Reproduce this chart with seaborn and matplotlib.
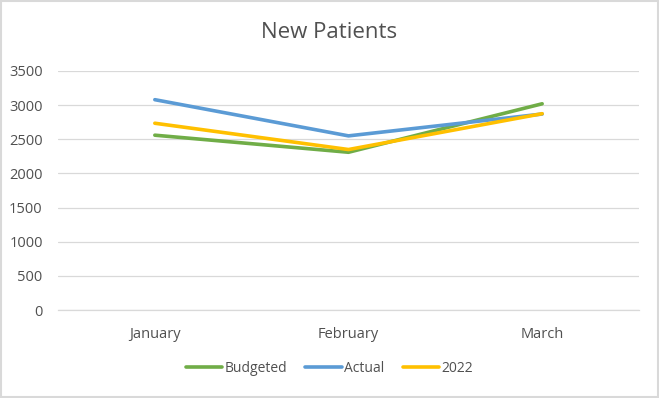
import matplotlib
matplotlib.use("Agg")
import matplotlib.pyplot as plt
import seaborn as sns
import pandas as pd
from matplotlib.patches import Rectangle
from matplotlib.lines import Line2D

months = ["January", "February", "March"]
budgeted = [2560, 2310, 3020]
actual = [3080, 2550, 2870]
y2022 = [2735, 2350, 2875]
series_names = ["Budgeted", "Actual", "2022"]
colors = ["#70AD47", "#5B9BD5", "#FFC000"]
yticks = [0, 500, 1000, 1500, 2000, 2500, 3000, 3500]

rows = []
for name, vals in zip(series_names, [budgeted, actual, y2022]):
    for m, v in zip(months, vals):
        rows.append({"Month": m, "Series": name, "Value": v})
df = pd.DataFrame(rows)
df["x"] = df["Month"].map({m: i for i, m in enumerate(months)})

sns.set_theme(style="white")
plt.rcParams["font.family"] = ["Open Sans", "DejaVu Sans"]

fig = plt.figure(figsize=(6.59, 3.98), dpi=100)
ax = fig.add_axes([58/659, 1-310/398, (639-58)/659, (310-71)/398])

sns.lineplot(data=df, x="x", y="Value", hue="Series", hue_order=series_names,
             palette=colors, linewidth=2.6, ax=ax, legend=False, sort=False)

ax.set_xlim(-0.5, 2.5)
ax.set_ylim(0, 3500)
ax.set_yticks(yticks)
ax.set_yticklabels([str(t) for t in yticks])
ax.set_xticks(range(len(months)))
ax.set_xticklabels(months)
ax.set_xlabel("")
ax.set_ylabel("")
ax.grid(axis="y", color="#D9D9D9", linewidth=0.9)
ax.set_axisbelow(True)
for s in ["top", "right", "left"]:
    ax.spines[s].set_visible(False)
ax.spines["bottom"].set_color("#D9D9D9")
ax.spines["bottom"].set_linewidth(0.9)
ax.tick_params(axis="both", length=0, labelsize=10.5, colors="#505050")
ax.tick_params(axis="y", pad=11)
ax.tick_params(axis="x", pad=12)

fig.text(0.5, 1-32/398, "New Patients", ha="center", va="center",
         fontsize=16, color="#505050")

handles = [Line2D([0], [0], color=c, lw=2.6) for c in colors]
fig.legend(handles, series_names, loc="center", bbox_to_anchor=(0.5, 1-368/398),
           ncol=3, frameon=False, fontsize=10, labelcolor="#505050",
           handlelength=2.6, handletextpad=0.2, columnspacing=1.3)

fig.patches.append(Rectangle((0.002, 0.003), 0.996, 0.994, transform=fig.transFigure,
                             fill=False, edgecolor="#D9D9D9", linewidth=1.5))

fig.savefig("out.png", dpi=100)
